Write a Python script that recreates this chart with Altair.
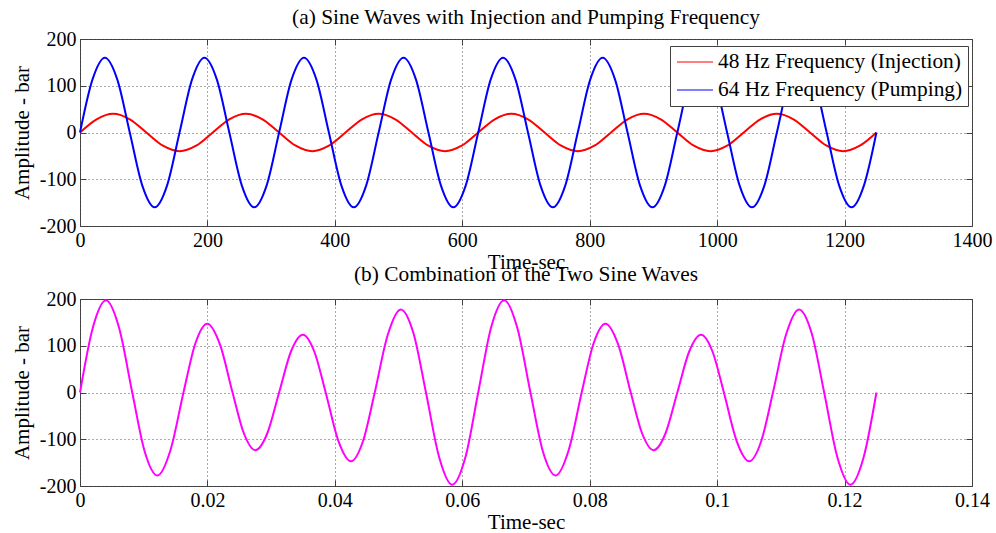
import altair as alt
import pandas as pd

RED_NAME = "48 Hz Frequency (Injection)"
BLUE_NAME = "64 Hz Frequency (Pumping)"

red_x = [0, 26.04, 52.08, 78.13, 104.17, 130.21, 156.25, 182.29, 208.33, 234.38,
         260.42, 286.46, 312.5, 338.54, 364.58, 390.63, 416.67, 442.71, 468.75, 494.79,
         520.83, 546.88, 572.92, 598.96, 625, 651.04, 677.08, 703.13, 729.17, 755.21,
         781.25, 807.29, 833.33, 859.38, 885.42, 911.46, 937.5, 963.54, 989.58, 1015.63,
         1041.67, 1067.71, 1093.75, 1119.79, 1145.83, 1171.88, 1197.92, 1223.96, 1250]
red_y = [0, 28.3, 40, 28.3, 0, -28.3, -40, -28.3,
         0, 28.3, 40, 28.3, 0, -28.3, -40, -28.3,
         0, 28.3, 40, 28.3, 0, -28.3, -40, -28.3,
         0, 28.3, 40, 28.3, 0, -28.3, -40, -28.3,
         0, 28.3, 40, 28.3, 0, -28.3, -40, -28.3,
         0, 28.3, 40, 28.3, 0, -28.3, -40, -28.3,
         0]

blue_x = [0, 19.53, 39.06, 58.59, 78.13, 97.66, 117.19, 136.72, 156.25, 175.78,
          195.31, 214.84, 234.38, 253.91, 273.44, 292.97, 312.5, 332.03, 351.56, 371.09,
          390.63, 410.16, 429.69, 449.22, 468.75, 488.28, 507.81, 527.34, 546.88, 566.41,
          585.94, 605.47, 625, 644.53, 664.06, 683.59, 703.13, 722.66, 742.19, 761.72,
          781.25, 800.78, 820.31, 839.84, 859.38, 878.91, 898.44, 917.97, 937.5, 957.03,
          976.56, 996.09, 1015.63, 1035.16, 1054.69, 1074.22, 1093.75, 1113.28, 1132.81, 1152.34,
          1171.88, 1191.41, 1210.94, 1230.47, 1250]
blue_y = [0, 113.1, 160, 113.1, 0, -113.1, -160, -113.1,
          0, 113.1, 160, 113.1, 0, -113.1, -160, -113.1,
          0, 113.1, 160, 113.1, 0, -113.1, -160, -113.1,
          0, 113.1, 160, 113.1, 0, -113.1, -160, -113.1,
          0, 113.1, 160, 113.1, 0, -113.1, -160, -113.1,
          0, 113.1, 160, 113.1, 0, -113.1, -160, -113.1,
          0, 113.1, 160, 113.1, 0, -113.1, -160, -113.1,
          0, 113.1, 160, 113.1, 0, -113.1, -160, -113.1,
          0]

comb_t = [0, 0.002042, 0.004084, 0.006141, 0.008201, 0.010174, 0.012148, 0.014195,
          0.016241, 0.018101, 0.019961, 0.021951, 0.023941, 0.025731, 0.027522, 0.029386,
          0.03125, 0.033114, 0.034978, 0.036769, 0.038559, 0.040549, 0.042539, 0.044399,
          0.046259, 0.048305, 0.050352, 0.052326, 0.054299, 0.056359, 0.058416, 0.060458,
          0.0625, 0.064542, 0.066584, 0.068641, 0.070701, 0.072674, 0.074648, 0.076695,
          0.078741, 0.080601, 0.082461, 0.084451, 0.086441, 0.088231, 0.090022, 0.091886,
          0.09375, 0.095614, 0.097478, 0.099269, 0.101059, 0.103049, 0.105039, 0.106899,
          0.108759, 0.110805, 0.112852, 0.114826, 0.116799, 0.118859, 0.120916, 0.122958,
          0.125]
comb_y = [0, 140.3, 197.4, 138.0, 0, -127.2, -177.5, -123.4,
          0, 104.9, 147.2, 103.3, 0, -87.7, -123.5, -87.7,
          0, 87.7, 123.5, 87.7, 0, -103.3, -147.2, -104.9,
          0, 123.4, 177.5, 127.2, 0, -138.0, -197.3, -140.3,
          0, 140.3, 197.4, 138.0, 0, -127.2, -177.5, -123.4,
          0, 104.9, 147.2, 103.3, 0, -87.7, -123.5, -87.7,
          0, 87.7, 123.5, 87.7, 0, -103.3, -147.2, -104.9,
          0, 123.4, 177.5, 127.2, 0, -138.0, -197.3, -140.3,
          0]

x_ticks_top = [0, 200, 400, 600, 800, 1000, 1200, 1400]
x_ticks_bot = [0, 0.02, 0.04, 0.06, 0.08, 0.1, 0.12, 0.14]
y_ticks = [-200, -100, 0, 100, 200]

FONT = "Liberation Serif, Times New Roman, DejaVu Serif, serif"
FS_TICK = 20
FS_AXT = 21
FS_TITLE = 21.4
W, H = 892, 187
AX = "#404040"

top_df = pd.DataFrame({
    "x": red_x + blue_x,
    "y": red_y + blue_y,
    "series": [RED_NAME] * len(red_x) + [BLUE_NAME] * len(blue_x),
})
bot_df = pd.DataFrame({"x": comb_t, "y": comb_y})


def main_axis(values, title, label_expr, title_pad):
    return alt.Axis(
        values=values, title=title, grid=True, gridDash=[1, 3], gridColor="#555555",
        gridOpacity=1, gridWidth=1, ticks=False, domain=False,
        labelFont=FONT, labelFontSize=FS_TICK, labelColor="black", labelPadding=4,
        titleFont=FONT, titleFontSize=FS_AXT, titleFontWeight="normal", titleColor="black",
        labelExpr=label_expr, labelFlush=False, labelOverlap=False, titlePadding=title_pad,
    )


def tick_axis(values, orient):
    return alt.Axis(values=values, orient=orient, offset=-6, tickSize=6, tickColor=AX,
                    tickWidth=1, labels=False, domain=False, grid=False, title=None)


def panel(df, line_layer_fn, xvals, xdomain, title, title_offset):
    xs = alt.Scale(domain=xdomain, nice=False, zero=False)
    ys = alt.Scale(domain=[-200, 200], nice=False)
    base = alt.Chart(df)
    xa = main_axis(xvals, "Time-sec", "'' + datum.value", 1)
    ya = main_axis(y_ticks, "Amplitude - bar", "'' + datum.value", 7)
    lines = line_layer_fn(base, alt.X("x:Q", scale=xs, axis=xa), alt.Y("y:Q", scale=ys, axis=ya))
    t1 = base.mark_line(opacity=0).encode(
        x=alt.X("x:Q", scale=xs, axis=tick_axis(xvals, "bottom")),
        y=alt.Y("y:Q", scale=ys, axis=tick_axis(y_ticks, "left")),
    )
    t2 = base.mark_line(opacity=0).encode(
        x=alt.X("x:Q", scale=xs, axis=tick_axis(xvals, "top")),
        y=alt.Y("y:Q", scale=ys, axis=tick_axis(y_ticks, "right")),
    )
    return alt.layer(t1, t2, lines).resolve_axis(x="independent", y="independent").properties(
        width=W, height=H,
        title=alt.TitleParams(title, font=FONT, fontSize=FS_TITLE, fontWeight="normal",
                              color="black", anchor="middle", frame="group",
                              offset=title_offset),
    )


def top_lines(base, x, y):
    return base.mark_line(strokeWidth=2, interpolate="monotone").encode(
        x=x, y=y,
        color=alt.Color("series:N",
                        scale=alt.Scale(domain=[RED_NAME, BLUE_NAME], range=["#ff0000", "#0000ff"]),
                        legend=alt.Legend(title=None, orient="none", legendX=590, legendY=7,
                                          strokeColor=AX, fillColor="white", padding=5,
                                          symbolType="M-1.8,0H1.8", symbolSize=400,
                                          symbolStrokeWidth=1.2, symbolOffset=9,
                                          labelFont=FONT,
                                          labelFontSize=FS_TITLE, labelColor="black",
                                          labelOffset=12, rowPadding=6, labelLimit=400,
                                          symbolOpacity=1)),
    )


def bot_lines(base, x, y):
    return base.mark_line(strokeWidth=2, interpolate="monotone", color="#ff00ff").encode(x=x, y=y)


top = panel(top_df, top_lines, x_ticks_top, [0, 1400],
            "(a) Sine Waves with Injection and Pumping Frequency", 1)
bot = panel(bot_df, bot_lines, x_ticks_bot, [0, 0.14],
            "(b) Combination of the Two Sine Waves", 4)

chart = alt.vconcat(top, bot, spacing=73, bounds="flush").properties(
    padding={"left": 10, "top": 6, "right": 0, "bottom": 0},
    background="white",
).configure_view(stroke=AX, strokeWidth=1)

chart.save("out.html", embed_options={"renderer": "svg", "actions": False})
